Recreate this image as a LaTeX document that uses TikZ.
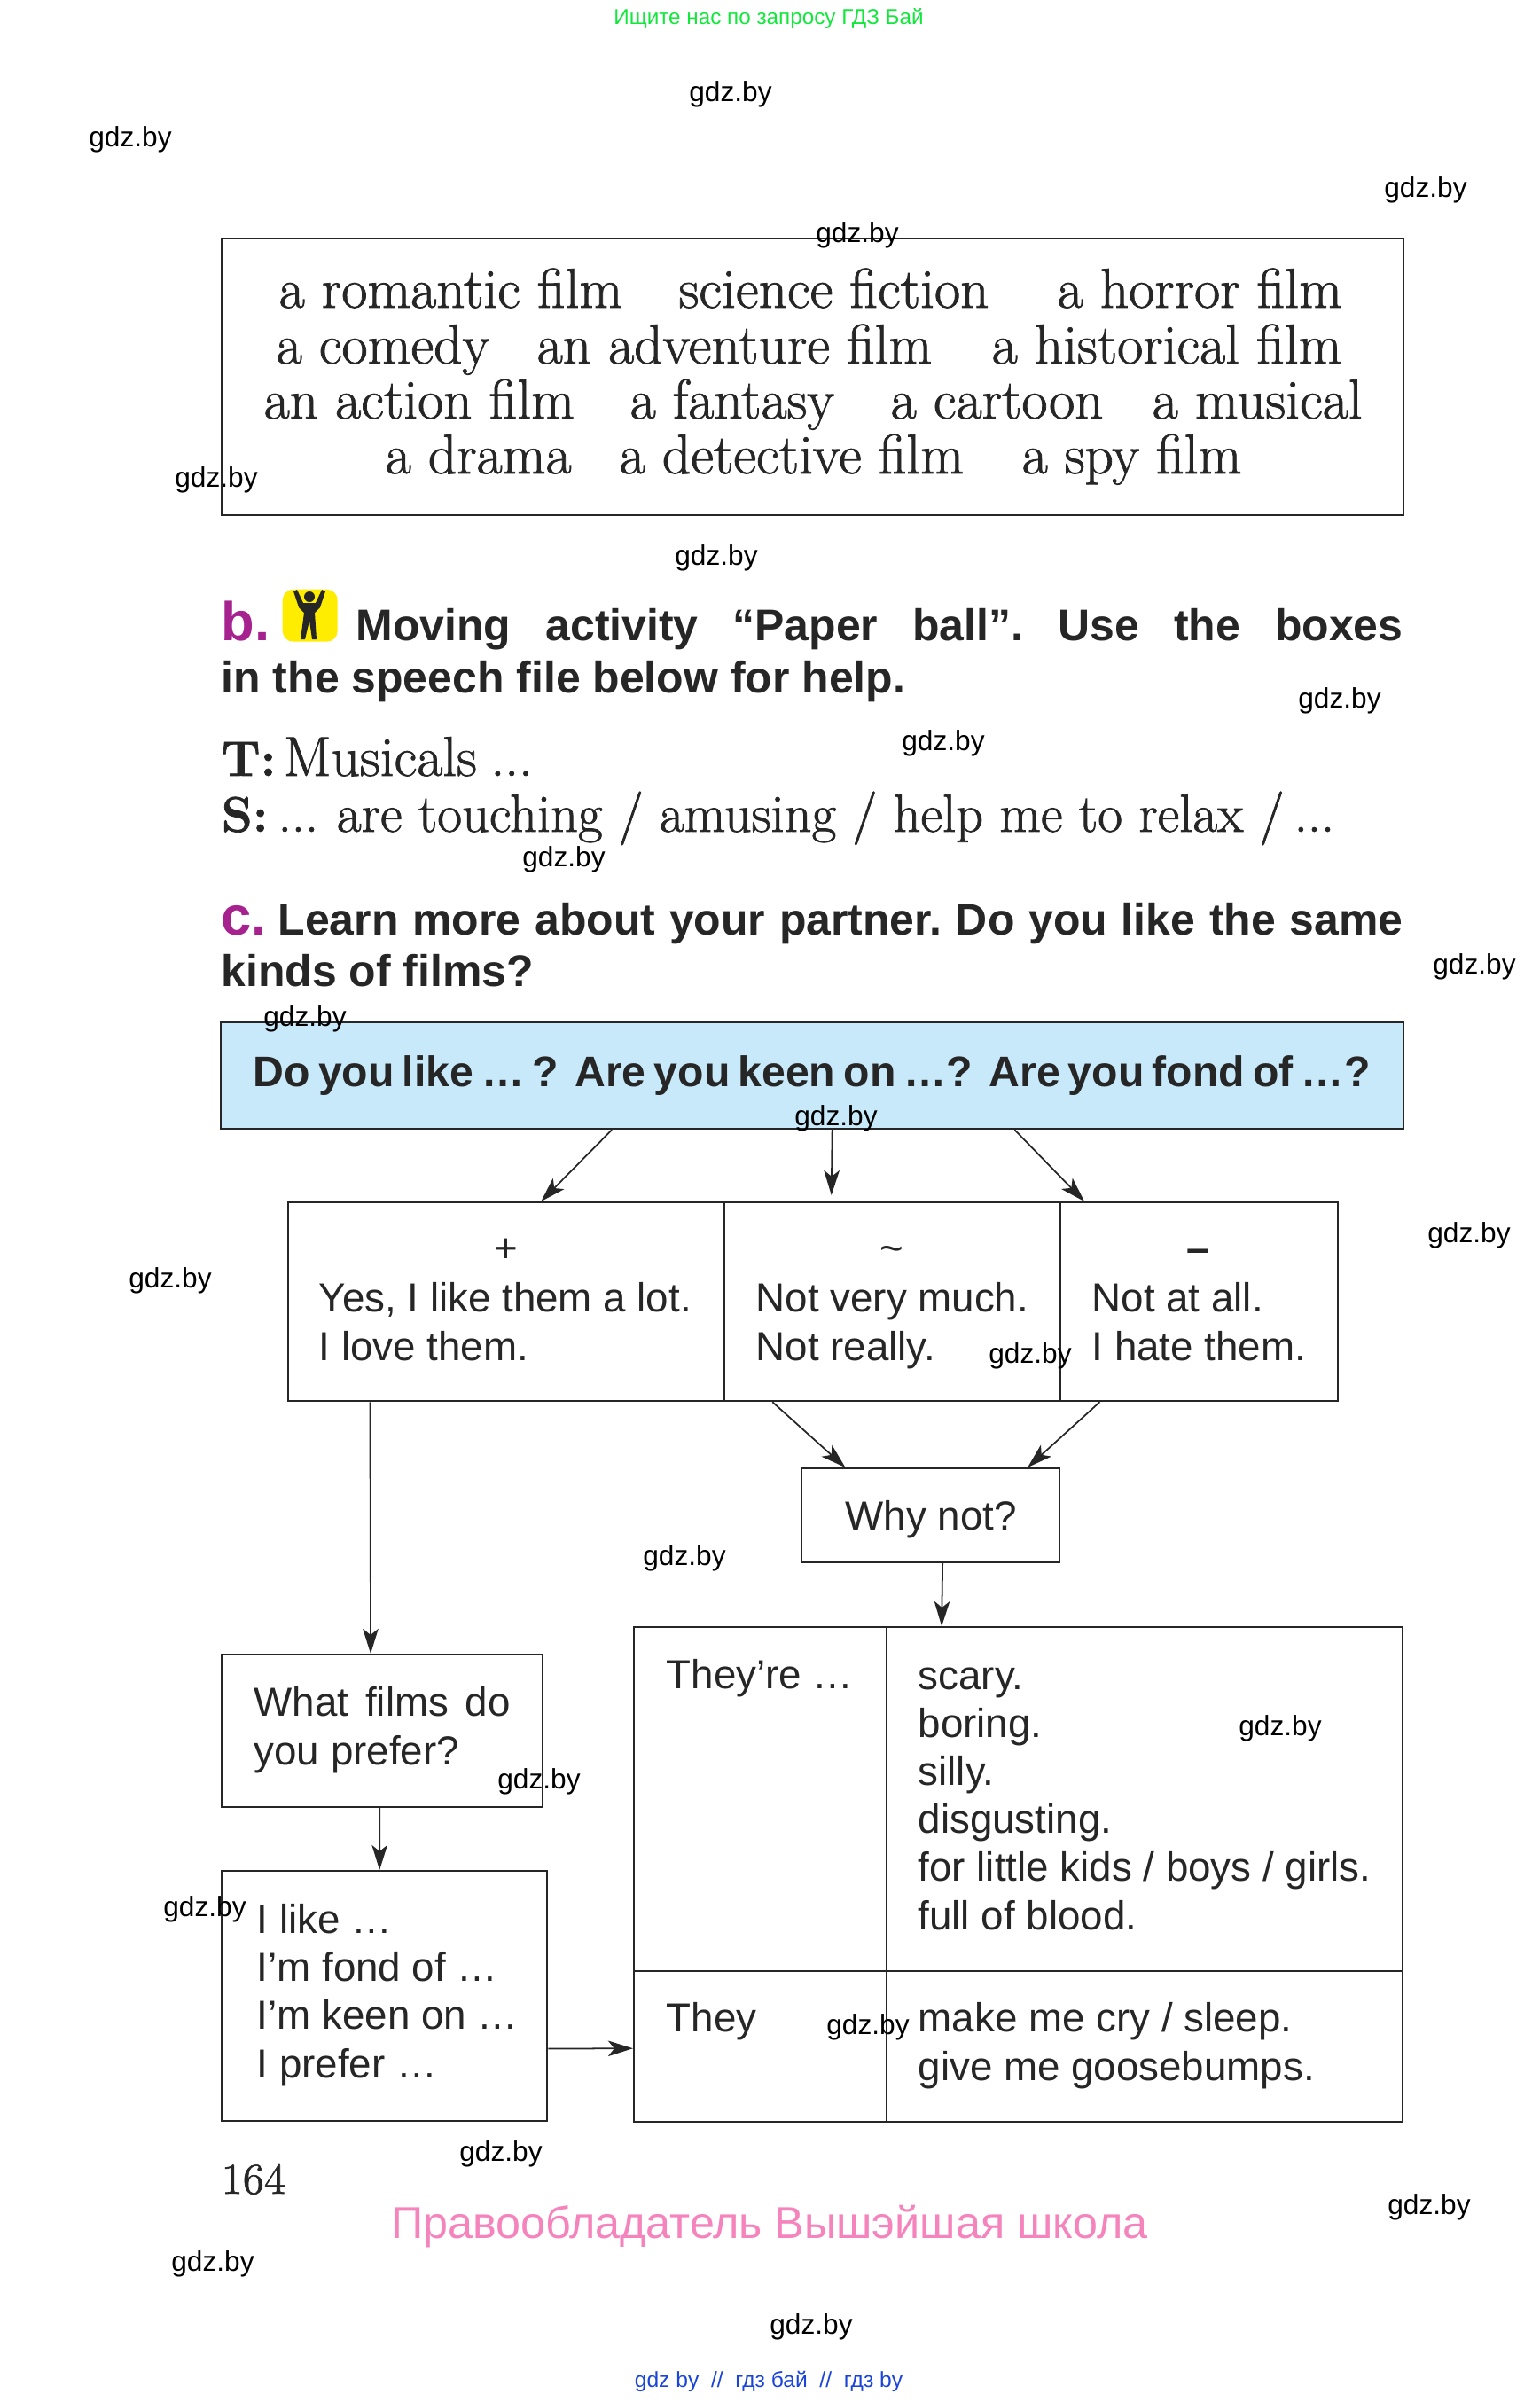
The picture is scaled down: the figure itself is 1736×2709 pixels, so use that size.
\documentclass[tikz,border=0pt]{standalone}
\usepackage{fontspec}
\setsansfont{Liberation Sans}
\setmainfont{Latin Modern Roman}[FakeBold=1.2]
\usetikzlibrary{arrows.meta,calc}
\definecolor{headmag}{HTML}{A6228F}
\definecolor{boxblue}{HTML}{C8E9FA}
\definecolor{pinkline}{HTML}{F584BC}
\definecolor{topgreen}{HTML}{12E83C}
\definecolor{linkblue}{HTML}{1A45D8}
\tikzset{
  cell/.style={draw=black!85,line width=0.6pt,inner sep=0pt,anchor=north west},
  film/.style={font=\fontsize{18}{20}\selectfont,anchor=base west,inner sep=0pt,text=black!85},
  head/.style={font=\sffamily\bfseries\fontsize{14.2}{17}\selectfont\frenchspacing,anchor=base west,inner sep=0pt,text=black!85},
  say/.style={font=\sffamily\fontsize{13}{15.4}\selectfont,anchor=base west,inner sep=0pt,text=black!85,align=left},
  wm/.style={font=\sffamily\fontsize{9}{11}\selectfont,inner sep=0pt},
  arr/.style={-{Stealth[length=8pt,width=5pt,inset=2pt]},line width=0.5pt,black!85},
}
\newcommand{\leadin}[1]{{\fontsize{16}{18}\selectfont\textbf{#1}}}
\begin{document}
\begin{tikzpicture}[x=0.01cm,y=-0.01cm]
\useasboundingbox (0,0) rectangle (1736,2709);

% film box
\node[cell,minimum width=13.32cm,minimum height=3.12cm] (filmbox) at (249,268) {};
\foreach \px/\py/\txt [count=\i] in {
  314/347/a romantic film, 765/347/science fiction, 1192/347/a horror film,
  311/410/a comedy, 605/410/an adventure film, 1118/410/a historical film,
  297/472/an action film, 710/472/a fantasy, 1004/472/a cartoon, 1299/472/a musical,
  434/534/a drama, 698/534/a detective film, 1152/534/a spy film}
  \node[film] (film\i) at (\px,\py) {\txt};

% task b
\node[head,text=headmag,font=\sffamily\bfseries\fontsize{17.5}{20}\selectfont] (blabel) at (249,722) {b.};
\node[fill=yellow!95!orange,rounded corners=3.5pt,minimum width=0.62cm,minimum height=0.59cm,inner sep=0pt,anchor=north west] (icon) at (318,664) {};
\fill[black!85] (349,673) circle (6);
\fill[black!85] (331,667) -- (335,665) -- (342,680) -- (356,680) -- (363,665) -- (367,667) -- (361,685) -- (355,691) -- (357,721) -- (352,721) -- (349,700) -- (344,721) -- (339,721) -- (343,691) -- (337,685) -- cycle;
\node[head] (bline1) at (401,722) {\makebox[11.8cm][s]{Moving activity “Paper ball”. Use the boxes}};
\node[head] (bline2) at (249,781) {in the speech file below for help.};
\node[film] (tline) at (249,875) {\leadin{T:}\hspace{-3pt} Musicals\hspace{-1pt} ...};
\node[film,font=\fontsize{17.2}{20}\selectfont] (sline) at (249,938) {\leadin{S:}\hspace{-2pt} ...\hspace{-1pt} are touching / amusing / help me to relax /\hspace{-2pt} ...};

% task c
\node[head,text=headmag,font=\sffamily\bfseries\fontsize{17.5}{20}\selectfont] (clabel) at (249,1054) {c.};
\node[head] (cline1) at (313,1054) {\makebox[12.68cm][s]{Learn more about your partner. Do you like the same}};
\node[head] (cline2) at (249,1112) {kinds of films?};

% question box
\node[cell,fill=boxblue,minimum width=13.33cm,minimum height=1.20cm] (qbox) at (248,1152) {};
\node[head,font=\sffamily\bfseries\fontsize{13.7}{17}\selectfont\frenchspacing] (qtext) at (285,1225) {\makebox[12.59cm][s]{Do you like … ?\ \ Are you keen on …?\ \ Are you fond of …?}};

% answers
\node[cell,minimum width=4.92cm,minimum height=2.24cm] (plus) at (324,1355) {};
\node[cell,minimum width=3.79cm,minimum height=2.24cm] (neutral) at (816,1355) {};
\node[cell,minimum width=3.13cm,minimum height=2.24cm] (minus) at (1195,1355) {};
\node[say,anchor=base] (plussign) at (571,1423) {+};
\node[say,anchor=base] (tilde) at (1006,1423) {\textasciitilde};
\node[say,anchor=base,font=\sffamily\bfseries\fontsize{13}{15.4}\selectfont] (dash) at (1351,1423) {–};
\node[say] (plustext) at (359,1534) {Yes, I like them a lot.\\I love them.};
\node[say] (neutraltext) at (852,1534) {Not very much.\\Not really.};
\node[say] (minustext) at (1231,1534) {Not at all.\\I hate them.};

\node[cell,minimum width=2.91cm,minimum height=1.06cm] (whynot) at (903,1655) {};
\node[say] (whytext) at (953,1725) {Why not?};

% left column
\node[cell,minimum width=3.62cm,minimum height=1.72cm] (prefer) at (249,1865) {};
\node[say] (prefertext) at (286,1990) {\makebox[2.89cm][s]{What films do}\\you prefer?};
\node[cell,minimum width=3.67cm,minimum height=2.82cm] (like) at (249,2109) {};
\node[say] (liketext) at (289,2343) {I like …\\I’m fond of …\\I’m keen on …\\I prefer …};

% right table
\node[cell,minimum width=2.85cm,minimum height=3.88cm] (theyre) at (714,1834) {};
\node[cell,minimum width=5.82cm,minimum height=3.88cm] (reasons) at (999,1834) {};
\node[cell,minimum width=2.85cm,minimum height=1.70cm] (they) at (714,2222) {};
\node[cell,minimum width=5.82cm,minimum height=1.70cm] (effects) at (999,2222) {};
\node[say] (theyretext) at (751,1904) {They’re …};
\node[say] (reasontext) at (1035,2176) {scary.\\boring.\\silly.\\disgusting.\\for little kids / boys / girls.\\full of blood.};
\node[say] (theytext) at (751,2291) {They};
\node[say] (effecttext) at (1035,2346) {make me cry / sleep.\\give me goosebumps.};

% connectors
\draw[arr] ($(qbox.south west)!.331!(qbox.south east)$) -- ($(plus.north west)!.579!(plus.north east)$);
\draw[arr,shorten >=2pt] ($(qbox.south west)!.517!(qbox.south east)$) -- ($(neutral.north west)!.319!(neutral.north east)$);
\draw[arr] ($(qbox.south west)!.671!(qbox.south east)$) -- ($(minus.north west)!.089!(minus.north east)$);
\draw[arr] ($(neutral.south west)!.145!(neutral.south east)$) -- ($(whynot.north west)!.172!(whynot.north east)$);
\draw[arr] ($(minus.south west)!.144!(minus.south east)$) -- ($(whynot.north west)!.873!(whynot.north east)$);
\draw[arr] ($(plus.south west)!.189!(plus.south east)$) -- ($(prefer.north west)!.464!(prefer.north east)$);
\draw[arr] ($(prefer.south west)!.492!(prefer.south east)$) -- ($(like.north west)!.485!(like.north east)$);
\draw[arr] ($(whynot.south west)!.546!(whynot.south east)$) -- ($(reasons.north west)!.108!(reasons.north east)$);
\draw[arr] ($(like.north east)!.709!(like.south east)$) -- ($(they.north west)!.512!(they.south west)$);

% page number and notes
\node[film,font=\fontsize{14}{16}\selectfont] (pagenum) at (249,2474) {164};
\node[font=\sffamily\fontsize{14.3}{20}\selectfont,text=pinkline,inner sep=0pt,anchor=base] (owner) at (868,2524) {Правообладатель Вышэйшая школа};
\node[font=\sffamily\fontsize{6.9}{9}\selectfont,text=topgreen,inner sep=0pt] (topline) at (867,21) {Ищите нас по запросу ГДЗ Бай};
\node[font=\sffamily\fontsize{7}{9}\selectfont,text=linkblue,inner sep=0pt] (bottomline) at (867,2686) {gdz by\ \ //\ \ гдз бай\ \ //\ \ гдз by};

% watermarks
\foreach \px/\py [count=\i] in {824/106,147/157,1608/214,967/265,244/541,808/629,1511/790,1064/838,636/969,1663/1090,344/1149,943/1261,192/1444,1657/1393,1162/1529,772/1757,1444/1949,608/2009,231/2153,979/2286,565/2429,1612/2489,240/2553,915/2624}
  \node[wm] (wm\i) at (\px,\py) {gdz.by};

\end{tikzpicture}
\end{document}
